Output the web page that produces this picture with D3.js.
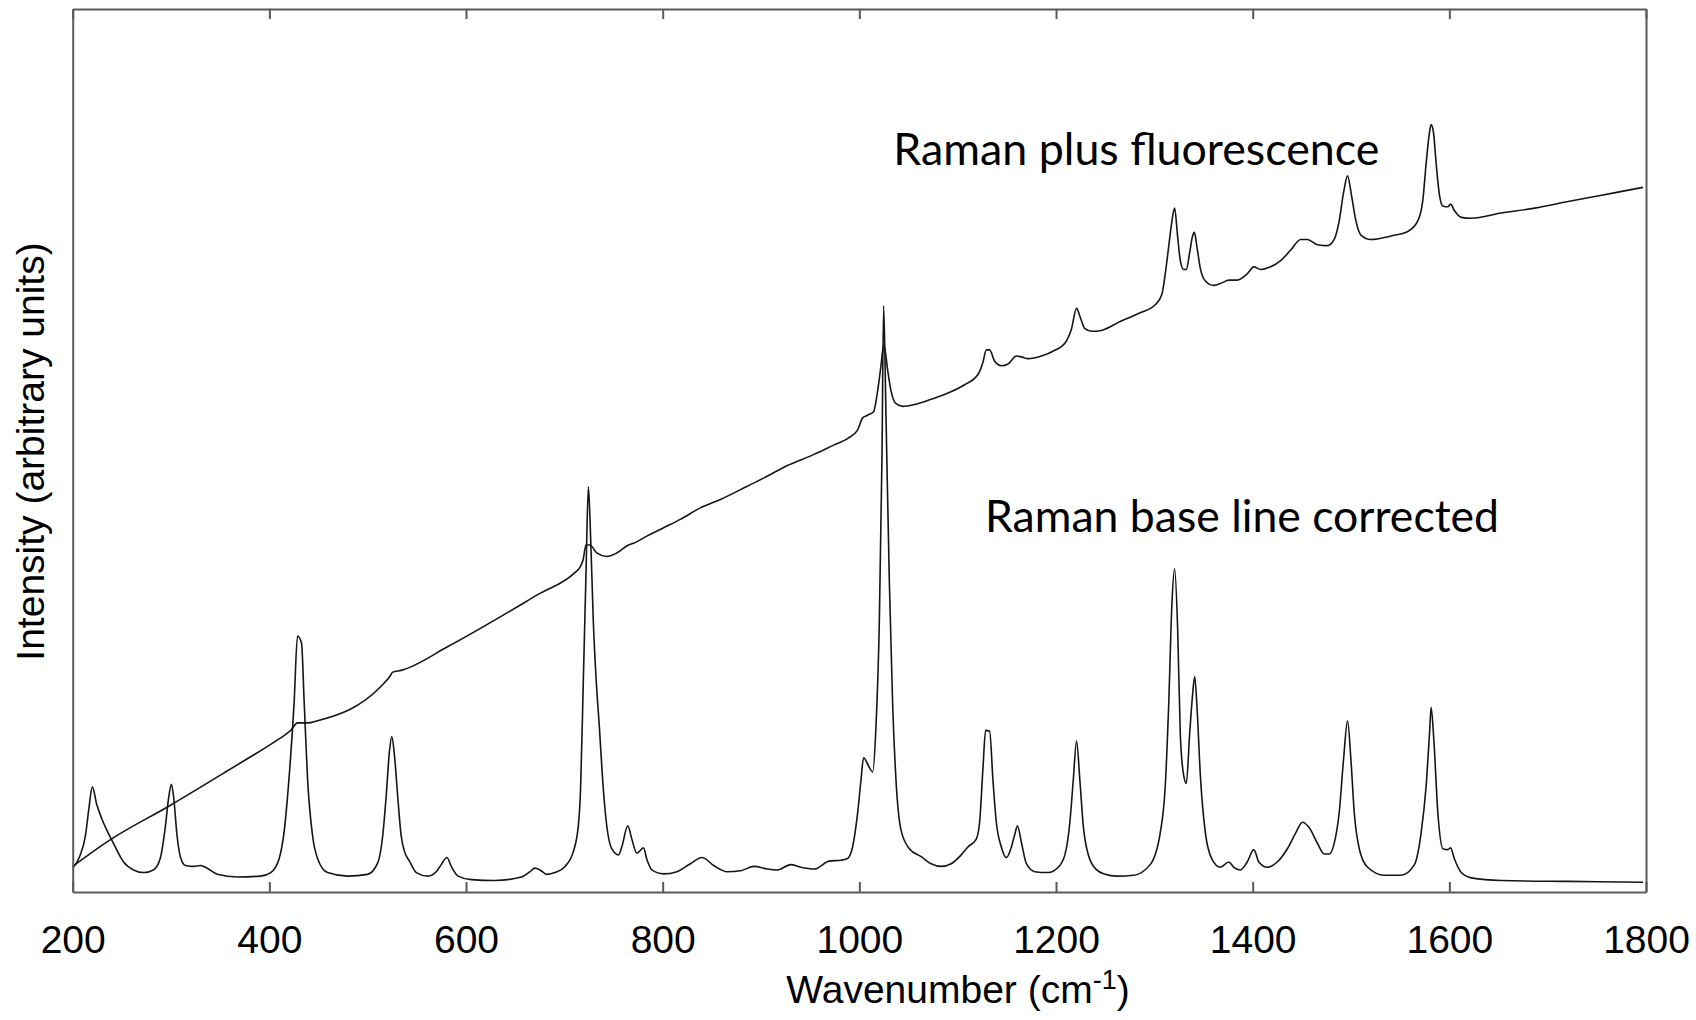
<!DOCTYPE html>
<html>
<head>
<meta charset="utf-8">
<script src="https://cdn.jsdelivr.net/npm/d3@7"></script>
<style>
  html, body { margin: 0; padding: 0; background: #fff; }
  svg { display: block; }
</style>
</head>
<body>
<div id="chart"></div>
<script>
// x axis ticks (wavenumber, cm-1)
const xTicks = [200, 400, 600, 800, 1000, 1200, 1400, 1600, 1800];

// baseline corrected Raman spectrum (intensity in % of axis height)
const ramanWn = [200, 207, 213, 216.5, 220, 224.5, 229.6, 234.7, 241.5, 251.7,
  261.9, 272.1, 282, 289, 294, 297.6, 300.4, 302.7, 306.1, 309.5,
  314.6, 323.1, 330, 336.7, 347, 367.4, 391, 401.4, 410, 415,
  420, 425.2, 428.6, 432.7, 435.4, 438.8, 443.9, 449, 459.2, 479.6,
  499.9, 510.2, 515.3, 518.7, 522.1, 524.5, 527.2, 530.6, 534, 537.4,
  542.5, 549.4, 561.2, 569.7, 574.8, 580.6, 585, 591.9, 605.4, 629.2,
  656.4, 665, 670, 675.2, 682, 690.5, 700.7, 709.2, 714.3, 716.5,
  719.3, 722, 724.4, 726.1, 729.5, 732.2, 735.6, 739, 743.1, 748.2,
  755, 758.4, 764.5, 768.6, 773.7, 780.5, 783.9, 789, 800.9, 814.5,
  828.1, 840, 851.9, 865.5, 879.1, 892.8, 906.4, 916.6, 930.2, 940.4,
  954, 969.3, 981.2, 988, 993.1, 998.2, 1001.6, 1004.3, 1008.4, 1013.5,
  1016.9, 1020.3, 1023, 1024.7, 1027.1, 1030.5, 1033.9, 1037.3, 1042.4, 1050.9,
  1062.8, 1073, 1083.2, 1093.4, 1103.6, 1110.4, 1118.9, 1122.3, 1125.7, 1128.4,
  1132.5, 1135.9, 1139.3, 1144.4, 1149.5, 1154.6, 1158, 1160.8, 1164.8, 1169.9,
  1178.4, 1192, 1202.2, 1209, 1214.1, 1217.5, 1220.9, 1224.3, 1227.8, 1232.9,
  1241.4, 1249.2, 1261.8, 1278.8, 1295.8, 1306, 1311.1, 1314.5, 1317.9, 1320.6,
  1323.7, 1326.4, 1329.8, 1332.5, 1335.9, 1338.7, 1341, 1343.4, 1346.8, 1351.9,
  1358.7, 1367.2, 1375.7, 1380.8, 1387.6, 1394.4, 1401.2, 1406.3, 1414.9, 1425,
  1435.3, 1443.8, 1450.6, 1457.4, 1465.9, 1472.7, 1477.8, 1482.9, 1488, 1492.4,
  1496.5, 1499.9, 1503.3, 1508.4, 1516.9, 1533.9, 1550.9, 1564.5, 1571.3, 1576.4,
  1579.8, 1581.5, 1584.2, 1588.3, 1593.4, 1598.5, 1601.2, 1605.3, 1612.1, 1622.3,
  1652.9, 1720.9, 1797];
const ramanIntensity = [2.7, 4.0, 6.4, 9.5, 11.9, 9.9, 8.3, 7.0, 5.5, 3.4,
  2.5, 2.2, 2.5, 3.8, 7.2, 10.7, 12.2, 10.7, 6.4, 4.0,
  3.0, 2.9, 3.0, 2.7, 2.0, 1.7, 1.8, 2.2, 3.8, 6.8,
  12.9, 21.5, 29.0, 28.2, 21.5, 12.9, 6.4, 3.8, 2.2, 1.8,
  2.0, 3.3, 6.4, 10.7, 15.9, 17.6, 15.5, 10.7, 6.4, 4.6,
  3.5, 2.2, 1.8, 2.3, 3.1, 3.9, 2.9, 1.8, 1.4, 1.3,
  1.7, 2.3, 2.7, 2.5, 2.0, 2.2, 2.9, 4.6, 7.6, 11.7,
  24, 36, 45.9, 42.2, 30.5, 24.3, 18.7, 12.6, 7.5, 4.9,
  4.2, 5.1, 7.5, 6.0, 4.4, 5.0, 3.7, 2.5, 2.05, 2.3,
  3.2, 3.9, 3.0, 2.3, 2.4, 2.9, 2.6, 2.5, 3.1, 2.8,
  2.6, 3.5, 3.6, 3.8, 5.1, 8.9, 12.6, 15.2, 14.5, 13.6,
  18.7, 30.5, 49.2, 66.4, 53.9, 35.2, 21.1, 12.6, 7.0, 4.9,
  4.0, 3.2, 2.9, 3.2, 4.2, 5.1, 6.0, 7.9, 14.0, 18.3,
  18.2, 12.6, 7.9, 5.1, 3.9, 5.1, 6.5, 7.5, 5.6, 3.2,
  2.3, 2.2, 2.8, 4.2, 7.9, 12.6, 17.1, 12.6, 7.4, 4.2,
  2.5, 2.05, 1.8, 1.9, 3.1, 6.7, 12.0, 20.9, 32.7, 36.6,
  29.8, 17.9, 13.2, 12.3, 17.9, 22.1, 24.4, 20.9, 13.2, 6.7,
  3.7, 2.8, 3.4, 2.8, 2.5, 3.4, 4.8, 3.4, 2.8, 3.4,
  4.9, 6.7, 7.9, 7.3, 5.5, 4.3, 4.3, 5.5, 9.0, 15.0,
  19.4, 15.0, 9.0, 4.9, 2.8, 1.9, 1.9, 3.1, 6.7, 12.0,
  17.9, 20.9, 17.3, 9.0, 4.9, 4.8, 5.0, 3.7, 2.2, 1.6,
  1.3, 1.2, 1.1];

// Raman plus fluorescence spectrum
const fluorWn = [200, 238, 299, 357, 408, 416, 421.8, 428.6, 438.8, 449,
  513.6, 522.1, 525.5, 534, 581.6, 673.4, 710.9, 716, 719, 722,
  726.1, 732.9, 743.1, 753.3, 765.2, 770.3, 783.9, 800.9, 817.9, 838.3,
  858.7, 886, 903, 926.8, 954, 974.4, 988, 998.2, 1003.3, 1008.4,
  1014.5, 1018.6, 1022, 1024.7, 1026.1, 1028.8, 1032.2, 1037.3, 1044.1, 1056,
  1073, 1090, 1107, 1120.6, 1125.7, 1129.1, 1132.5, 1137.6, 1144.4, 1151.2,
  1159.7, 1164.8, 1171.6, 1185.2, 1198.8, 1209, 1215.8, 1220.9, 1224.3, 1229.4,
  1236.2, 1246, 1265.2, 1285.6, 1300.9, 1307.7, 1311.1, 1314.5, 1317.9, 1320.6,
  1323.7, 1326.4, 1329.8, 1332.5, 1335.9, 1338.7, 1340.7, 1343.4, 1346.8, 1351.9,
  1360.4, 1368.9, 1375.7, 1384.2, 1394.4, 1401.2, 1408, 1418.3, 1428.5, 1438.7,
  1448.9, 1455.7, 1465.9, 1476.1, 1482.9, 1488, 1492.4, 1496.5, 1500.5, 1505,
  1510.1, 1520.3, 1540.7, 1557.7, 1567.9, 1573, 1576.4, 1579.8, 1581.5, 1583.9,
  1586.6, 1590, 1593.4, 1598.5, 1601.2, 1605.3, 1612.1, 1622.3, 1652.9, 1686.9,
  1720.9, 1754.9, 1778.1, 1797];
const fluorIntensity = [2.9, 5.9, 9.8, 13.7, 17.2, 17.8, 18.3, 19.15, 19.15, 19.4,
  23.3, 24.35, 24.9, 25.1, 27.8, 33.7, 36.2, 36.8, 37.6, 39.3,
  39.3, 38.4, 38.0, 38.4, 39.3, 39.5, 40.3, 41.25, 42.2, 43.5,
  44.45, 45.95, 46.9, 48.3, 49.56, 50.64, 51.35, 52.3, 53.7, 54.0,
  54.4, 56.75, 59.6, 61.9, 61.4, 59.1, 56.75, 55.3, 55.0, 55.2,
  55.8, 56.5, 57.45, 58.6, 60.0, 61.4, 61.4, 60.1, 59.6, 59.8,
  60.7, 60.6, 60.4, 60.7, 61.35, 62.15, 63.8, 66.1, 65.2, 63.8,
  63.5, 63.6, 64.6, 65.6, 66.5, 67.7, 70.0, 73.0, 76.0, 77.45,
  74.2, 71.5, 70.5, 70.5, 72.4, 74.2, 74.7, 73.0, 70.6, 69.2,
  68.7, 69.0, 69.3, 69.3, 70.0, 70.8, 70.5, 70.8, 71.5, 72.7,
  73.9, 73.9, 73.3, 73.2, 73.9, 76.0, 79.2, 81.1, 78.9, 76.0,
  74.4, 73.9, 74.3, 74.8, 76.0, 78.3, 82.5, 86.0, 86.9, 86.0,
  82.5, 78.9, 77.7, 77.6, 77.9, 77.15, 76.4, 76.3, 76.9, 77.45,
  78.2, 78.9, 79.4, 79.8];

const labels = ["Raman plus fluorescence", "Raman base line corrected"];

const width = 1696;
const height = 1020;
const plot = { left: 72.7, right: 1646, top: 9, bottom: 892 };
const frameColor = "#5a5a5a";
const axisFont = "'Liberation Sans', Arial, Helvetica, sans-serif";
const noteFont = "Lato, 'Open Sans', sans-serif";

const svg = d3.select("#chart")
  .append("svg")
  .attr("width", width)
  .attr("height", height)
  .attr("viewBox", [0, 0, width, height]);

const x = d3.scaleLinear().domain([200, 1800]).range([plot.left, plot.right]);
const y = d3.scaleLinear().domain([0, 100]).range([plot.bottom, plot.top]);

const line = d3.line()
  .x(d => x(d[0]))
  .y(d => y(d[1]))
  .curve(d3.curveMonotoneX);

// spectra
[[fluorWn, fluorIntensity], [ramanWn, ramanIntensity]].forEach(([wn, inten]) => {
  svg.append("path")
    .datum(d3.zip(wn, inten))
    .attr("fill", "none")
    .attr("stroke", "#151515")
    .attr("stroke-width", 1.6)
    .attr("stroke-linejoin", "round")
    .attr("d", line);
});

// frame + inward ticks
const styleAxis = g => {
  g.attr("color", frameColor);
  g.select(".domain").attr("stroke-width", 2);
  g.selectAll(".tick line").attr("stroke-width", 2);
};

svg.append("g")
  .attr("transform", `translate(0,${plot.bottom})`)
  .call(d3.axisBottom(x).tickValues(xTicks).tickFormat(d3.format("d"))
    .tickSize(-10).tickSizeOuter(0).tickPadding(33))
  .call(styleAxis)
  .call(g => g.selectAll(".tick text")
    .attr("fill", "#000")
    .attr("font-size", 39)
    .attr("font-family", axisFont));

svg.append("g")
  .attr("transform", `translate(0,${plot.top})`)
  .call(d3.axisTop(x).tickValues(xTicks).tickSize(-10).tickSizeOuter(0).tickFormat(() => ""))
  .call(styleAxis);

svg.append("g")
  .attr("transform", `translate(${plot.left},0)`)
  .call(d3.axisLeft(y).tickValues([]).tickSizeOuter(0))
  .call(styleAxis);

svg.append("g")
  .attr("transform", `translate(${plot.right},0)`)
  .call(d3.axisRight(y).tickValues([]).tickSizeOuter(0))
  .call(styleAxis);

// axis titles
const xTitle = svg.append("text")
  .attr("x", 958)
  .attr("y", 1003)
  .attr("text-anchor", "middle")
  .attr("font-family", axisFont)
  .attr("font-size", 39)
  .attr("fill", "#000");
xTitle.append("tspan").text("Wavenumber (cm");
xTitle.append("tspan").attr("font-size", 27).attr("dy", -14).text("-1");
xTitle.append("tspan").attr("dy", 14).text(")");

svg.append("text")
  .attr("transform", `translate(44,${(plot.top + plot.bottom) / 2 + 1}) rotate(-90)`)
  .attr("text-anchor", "middle")
  .attr("font-family", axisFont)
  .attr("font-size", 39)
  .attr("fill", "#000")
  .text("Intensity (arbitrary units)");

// curve annotations
const notes = [
  { text: labels[0], wn: 1034.6, level: 82.3, len: 486 },
  { text: labels[1], wn: 1127.8, level: 40.8, len: 514 }
];
svg.selectAll(".note")
  .data(notes)
  .join("text")
  .attr("class", "note")
  .attr("x", d => x(d.wn))
  .attr("y", d => y(d.level))
  .attr("font-family", noteFont)
  .attr("font-size", 44)
  .attr("fill", "#000")
  .attr("textLength", d => d.len)
  .attr("lengthAdjust", "spacingAndGlyphs")
  .text(d => d.text);
</script>
</body>
</html>
